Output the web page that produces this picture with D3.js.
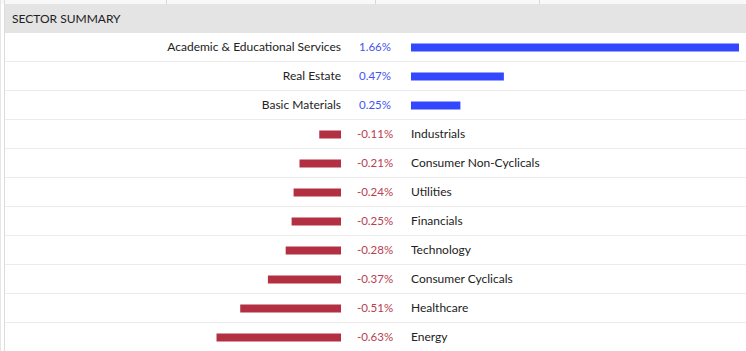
<!DOCTYPE html>
<html lang="en">
<head>
<meta charset="UTF-8">
<title>Sector Summary</title>
<script src="https://d3js.org/d3.v7.min.js"></script>
<style>
  body { margin: 0; background: #fff; }
  svg { display: block; font-family: Lato, "Open Sans", sans-serif; }
</style>
</head>
<body>
<div id="chart"></div>
<script>
    // sector names and daily change in percent
    var sectors = ["Academic & Educational Services", "Real Estate", "Basic Materials",
        "Industrials", "Consumer Non-Cyclicals", "Utilities", "Financials",
        "Technology", "Consumer Cyclicals", "Healthcare", "Energy"];
    var changes = [1.66, 0.47, 0.25, -0.11, -0.21, -0.24, -0.25, -0.28, -0.37, -0.51, -0.63];
    var title = "SECTOR SUMMARY";

    var w = 746;
    var h = 351;
    var headerTop = 4;
    var headerH = 29;
    var rowH = 29;
    var zeroX = 411;     // where positive bars start
    var negEnd = 341;    // where negative bars end

    var data = sectors.map(function(s, i) { return { name: s, value: changes[i] }; });

    var svg = d3.select("#chart")
        .append("svg")
        .attr("width", w)
        .attr("height", h);

    // top strip with column dividers
    svg.append("rect")
        .attr("x", 0).attr("y", 0)
        .attr("width", w).attr("height", headerTop)
        .attr("fill", "#f8f8f8");
    [166, 375, 539].forEach(function(x) {
        svg.append("line")
            .attr("x1", x + 0.5).attr("x2", x + 0.5)
            .attr("y1", 0).attr("y2", headerTop)
            .attr("stroke", "#d8d8d8");
    });

    // header band
    svg.append("rect")
        .attr("x", 4).attr("y", headerTop)
        .attr("width", w - 4).attr("height", headerH)
        .attr("fill", "#e4e4e4");
    svg.append("text")
        .attr("x", 12)
        .attr("y", headerTop + 19)
        .attr("font-size", "12px")
        .attr("fill", "#222")
        .text(title);

    // left borders
    svg.append("line")
        .attr("x1", 0.5).attr("x2", 0.5).attr("y1", 0).attr("y2", h)
        .attr("stroke", "#e6e6e6");
    svg.append("line")
        .attr("x1", 4.5).attr("x2", 4.5).attr("y1", 0).attr("y2", h)
        .attr("stroke", "#dcdcdc");

    var bodyTop = headerTop + headerH;

    var yScale = d3.scaleBand()
        .domain(sectors)
        .range([bodyTop, bodyTop + rowH * sectors.length]);

    // pixel length per percent
    var lenScale = d3.scaleLinear()
        .domain([0, d3.max(changes)])
        .range([0, 328]);

    // row separators
    svg.selectAll("line.sep")
        .data(sectors.slice(0, -1))
        .enter()
        .append("line")
        .attr("class", "sep")
        .attr("x1", 5).attr("x2", w)
        .attr("y1", d => yScale(d) + rowH - 0.5)
        .attr("y2", d => yScale(d) + rowH - 0.5)
        .attr("stroke", "#ececec");

    var rows = svg.selectAll("g.row")
        .data(data)
        .enter()
        .append("g")
        .attr("class", "row")
        .attr("transform", d => "translate(0," + (yScale(d.name) + rowH / 2) + ")");

    rows.append("rect")
        .attr("x", d => d.value >= 0 ? zeroX : negEnd - lenScale(-d.value))
        .attr("y", -4)
        .attr("width", d => lenScale(Math.abs(d.value)))
        .attr("height", 8)
        .attr("fill", d => d.value >= 0 ? "#3347ff" : "#b33043");

    rows.append("text")
        .attr("x", 375)
        .attr("y", 3.5)
        .attr("text-anchor", "middle")
        .attr("font-size", "11.5px")
        .attr("fill", d => d.value >= 0 ? "#4455f0" : "#b8404f")
        .text(d => d.value.toFixed(2) + "%");

    rows.append("text")
        .attr("x", d => d.value >= 0 ? negEnd : zeroX)
        .attr("y", 3.5)
        .attr("text-anchor", d => d.value >= 0 ? "end" : "start")
        .attr("font-size", "12px")
        .attr("fill", "#222")
        .text(d => d.name);
</script>
</body>
</html>
